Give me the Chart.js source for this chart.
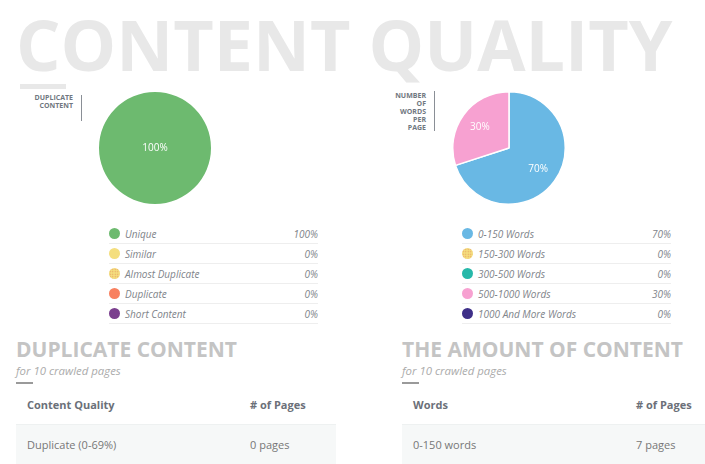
<!DOCTYPE html>
<html>
<head>
    <title>Content Quality</title>
    <script src="https://cdn.jsdelivr.net/npm/chart.js"></script>
    <style>
        body {
            margin: 0;
            width: 705px;
            height: 464px;
            overflow: hidden;
            background: #fff;
            font-family: 'Open Sans', sans-serif;
            position: relative;
        }
        .abs { position: absolute; }
        #title {
            left: 16px;
            top: 0px;
            font-size: 70px;
            font-weight: 700;
            color: #e8e8e8;
            white-space: nowrap;
            line-height: 88px;
        }
        #titleBar { left: 20px; top: 84px; width: 46px; height: 5px; background: #e8e8e8; }
        .side {
            font-size: 7px;
            font-weight: 700;
            color: #707780;
            text-align: right;
            line-height: 8px;
            width: 80px;
        }
        .vline { width: 1px; background: #8a8f96; }
        .legend .row {
            position: relative;
            height: 20px;
            border-bottom: 1px solid #eee;
            box-sizing: border-box;
            font-size: 10px;
            font-style: italic;
            color: #80848a;
            line-height: 20px;
        }
        .legend .dot {
            position: absolute;
            left: 0;
            top: 4px;
            width: 11px;
            height: 11px;
            border-radius: 50%;
        }
        .legend .name { position: absolute; left: 16px; }
        .legend .val { position: absolute; right: 0; }
        h2 {
            margin: 0;
            font-size: 21px;
            font-weight: 700;
            color: #c4c4c4;
            line-height: 30px;
            white-space: nowrap;
        }
        .sub { font-size: 11.4px; font-style: italic; color: #ababab; line-height: 14px; }
        .bar { width: 17px; height: 2px; background: #9a9a9a; }
        table { border-collapse: collapse; font-size: 11px; }
        th { text-align: left; font-weight: 700; color: #6b7079; height: 40px; padding: 0 0 0 11px; }
        td { color: #777; height: 39px; padding: 0 0 0 11px; background: #f6f8f8;
             border-top: 1px solid #eef1f1; border-bottom: 1px solid #eef1f1; }
    </style>
</head>
<body>
    <div id="title" class="abs">CONTENT QUALITY</div>
    <div id="titleBar" class="abs"></div>

    <div class="abs side" style="left:-7px; top:94px;">DUPLICATE<br>CONTENT</div>
    <div class="abs vline" style="left:81px; top:95px; height:26px;"></div>
    <div class="abs side" style="left:346px; top:92px;">NUMBER<br>OF<br>WORDS<br>PER<br>PAGE</div>
    <div class="abs vline" style="left:434px; top:91px; height:40px;"></div>

    <div class="abs" style="left:99px; top:92px; width:112px; height:112px;"><canvas id="dupChart"></canvas></div>
    <div class="abs" style="left:452px; top:91px; width:114px; height:114px;"><canvas id="wordChart"></canvas></div>

    <div id="dupLegend" class="abs legend" style="left:109px; top:224px; width:209px;"></div>
    <div id="wordLegend" class="abs legend" style="left:462px; top:224px; width:209px;"></div>

    <div class="abs" style="left:16px; top:334px;">
        <h2>DUPLICATE CONTENT</h2>
        <div class="sub">for 10 crawled pages</div>
    </div>
    <div class="abs bar" style="left:16px; top:382px;"></div>
    <table id="dupTable" class="abs" style="left:16px; top:384px; width:320px;"></table>

    <div class="abs" style="left:402px; top:334px;">
        <h2>THE AMOUNT OF CONTENT</h2>
        <div class="sub">for 10 crawled pages</div>
    </div>
    <div class="abs bar" style="left:402px; top:382px;"></div>
    <table id="wordTable" class="abs" style="left:402px; top:384px; width:303px;"></table>

    <script>
        // duplicate content pie
        const dupLabels = ['Unique', 'Similar', 'Almost Duplicate', 'Duplicate', 'Short Content'];
        const dupValues = [100, 0, 0, 0, 0];
        const dupColors = ['#6dba6f', '#f4de7e', '#f4de7e', '#f8805f', '#7b3f8e'];

        // words per page pie
        const wordLabels = ['0-150 Words', '150-300 Words', '300-500 Words', '500-1000 Words', '1000 And More Words'];
        const wordValues = [70, 0, 0, 30, 0];
        const wordColors = ['#69b8e4', '#f4de7e', '#27b8a9', '#f7a1d1', '#3e2f88'];

        // tables under the charts
        const dupHeader = ['Content Quality', '# of Pages'];
        const dupRows = [['Duplicate (0-69%)', '0 pages']];
        const wordHeader = ['Words', '# of Pages'];
        const wordRows = [['0-150 words', '7 pages']];

        const dotted = [false, false, true, false, false];
        const dottedWords = [false, true, false, false, false];

        const pctLabels = {
            id: 'pctLabels',
            afterDatasetsDraw(chart) {
                const ctx = chart.ctx;
                const meta = chart.getDatasetMeta(0);
                const data = chart.data.datasets[0].data;
                const total = data.reduce((a, b) => a + b, 0);
                ctx.save();
                ctx.fillStyle = '#fff';
                ctx.font = '10px "Open Sans"';
                ctx.textAlign = 'center';
                ctx.textBaseline = 'middle';
                meta.data.forEach((arc, i) => {
                    if (!data[i]) return;
                    let x = arc.x, y = arc.y;
                    if (data[i] < total) {
                        const mid = (arc.startAngle + arc.endAngle) / 2;
                        x += Math.cos(mid) * arc.outerRadius * 0.64;
                        y += Math.sin(mid) * arc.outerRadius * 0.64;
                    }
                    ctx.fillText(Math.round(data[i] / total * 100) + '%', x, y);
                });
                ctx.restore();
            }
        };

        function makePie(id, labels, values, colors, border) {
            new Chart(document.getElementById(id), {
                type: 'pie',
                data: {
                    labels: labels,
                    datasets: [{
                        data: values,
                        backgroundColor: colors,
                        borderColor: '#fff',
                        borderWidth: border,
                        hoverOffset: 0
                    }]
                },
                options: {
                    responsive: true,
                    maintainAspectRatio: false,
                    animation: false,
                    events: [],
                    layout: { padding: 0 },
                    plugins: { legend: { display: false }, tooltip: { enabled: false } }
                },
                plugins: [pctLabels]
            });
        }

        function makeLegend(id, labels, values, colors, dots) {
            const el = document.getElementById(id);
            labels.forEach((name, i) => {
                let bg = colors[i];
                if (dots[i]) {
                    bg = 'radial-gradient(circle, #e8a060 0.6px, transparent 0.9px) 0 0 / 2.5px 2.5px, ' + colors[i];
                }
                el.innerHTML += `<div class="row"><span class="dot" style="background:${bg}"></span>` +
                    `<span class="name">${name}</span><span class="val">${values[i]}%</span></div>`;
            });
        }

        function makeTable(id, header, rows, col2) {
            const el = document.getElementById(id);
            let html = `<tr><th>${header[0]}</th><th style="width:${col2}px">${header[1]}</th></tr>`;
            rows.forEach(r => { html += `<tr><td>${r[0]}</td><td>${r[1]}</td></tr>`; });
            el.innerHTML = html;
        }

        makePie('dupChart', dupLabels, dupValues, dupColors, 0);
        makePie('wordChart', wordLabels, wordValues, wordColors, 1.5);
        makeLegend('dupLegend', dupLabels, dupValues, dupColors, dotted);
        makeLegend('wordLegend', wordLabels, wordValues, wordColors, dottedWords);
        makeTable('dupTable', dupHeader, dupRows, 86);
        makeTable('wordTable', wordHeader, wordRows, 69);
    </script>
</body>
</html>
